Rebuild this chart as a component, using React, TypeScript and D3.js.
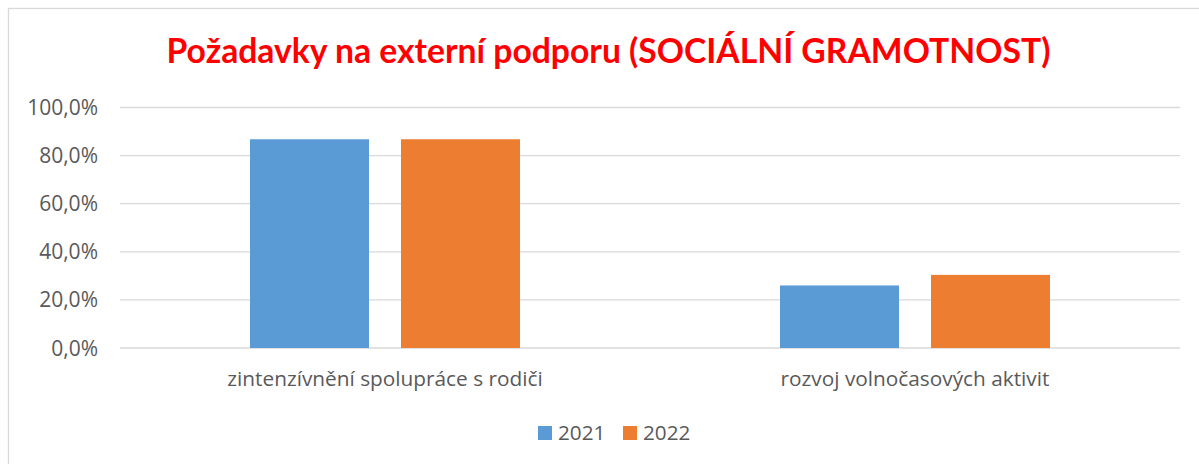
import * as d3 from "d3";

const categories = ["zintenzívnění spolupráce s rodiči", "rozvoj volnočasových aktivit"];
const series = ["2021", "2022"];
const values2021 = [0.868, 0.26];
const values2022 = [0.868, 0.304];
const yTicks = [0, 0.2, 0.4, 0.6, 0.8, 1.0];
const colors = ["#5B9BD5", "#ED7D31"];

const W = 1199;
const H = 464;
const TITLE_FONT = "Lato, 'Open Sans', sans-serif";
const FONT = "'Open Sans', Lato, sans-serif";

export default function App() {
  const plot = { left: 120, right: 1180, top: 107.5, bottom: 348 };

  const y = d3.scaleLinear().domain([0, 1]).range([plot.bottom, plot.top]);
  const x0 = d3.scaleBand<string>().domain(categories).range([plot.left, plot.right]);
  const outer = x0.bandwidth() * (130 / 530);
  const x1 = d3
    .scaleBand<string>()
    .domain(series)
    .range([outer, x0.bandwidth() - outer])
    .paddingInner(32 / 151);

  const fmt = (v: number) => (v * 100).toFixed(1).replace(".", ",") + "%";
  const valuesBySeries = [values2021, values2022];

  return (
    <svg
      width={W}
      height={H}
      style={{ position: "absolute", left: 0, top: 0, background: "#fff" }}
      fontFamily={FONT}
    >
      {/* chart frame */}
      <rect x={8.5} y={8.5} width={1202} height={470} fill="#fff" stroke="#d9d9d9" strokeWidth={1.3} />

      <text
        x={608.5}
        y={63}
        textAnchor="middle"
        fill="#FF0000"
        fontWeight="bold"
        fontSize={33.7}
        fontFamily={TITLE_FONT}
      >
        Požadavky na externí podporu (SOCIÁLNÍ GRAMOTNOST)
      </text>

      {/* gridlines + y labels */}
      {yTicks.map((t) => (
        <g key={t}>
          <line
            x1={plot.left}
            x2={plot.right}
            y1={y(t)}
            y2={y(t)}
            stroke="#d9d9d9"
            strokeWidth={1.3}
          />
          <text x={98} y={y(t) + 7.5} textAnchor="end" fill="#595959" fontSize={21}>
            {fmt(t)}
          </text>
        </g>
      ))}

      {/* bars */}
      {categories.map((c, ci) => (
        <g key={c} transform={`translate(${x0(c)},0)`}>
          {series.map((s, si) => {
            const v = valuesBySeries[si][ci];
            return (
              <rect
                key={s}
                x={x1(s)}
                y={y(v)}
                width={x1.bandwidth()}
                height={y(0) - y(v)}
                fill={colors[si]}
              />
            );
          })}
          <text
            x={x0.bandwidth() / 2}
            y={386}
            textAnchor="middle"
            fill="#595959"
            fontSize={20.8}
          >
            {c}
          </text>
        </g>
      ))}

      {/* legend */}
      {series.map((s, si) => (
        <g key={s} transform={`translate(${538 + si * 85},426)`}>
          <rect width={14} height={14} fill={colors[si]} />
          <text x={20} y={13.5} fill="#595959" fontSize={20.7}>
            {s}
          </text>
        </g>
      ))}
    </svg>
  );
}
